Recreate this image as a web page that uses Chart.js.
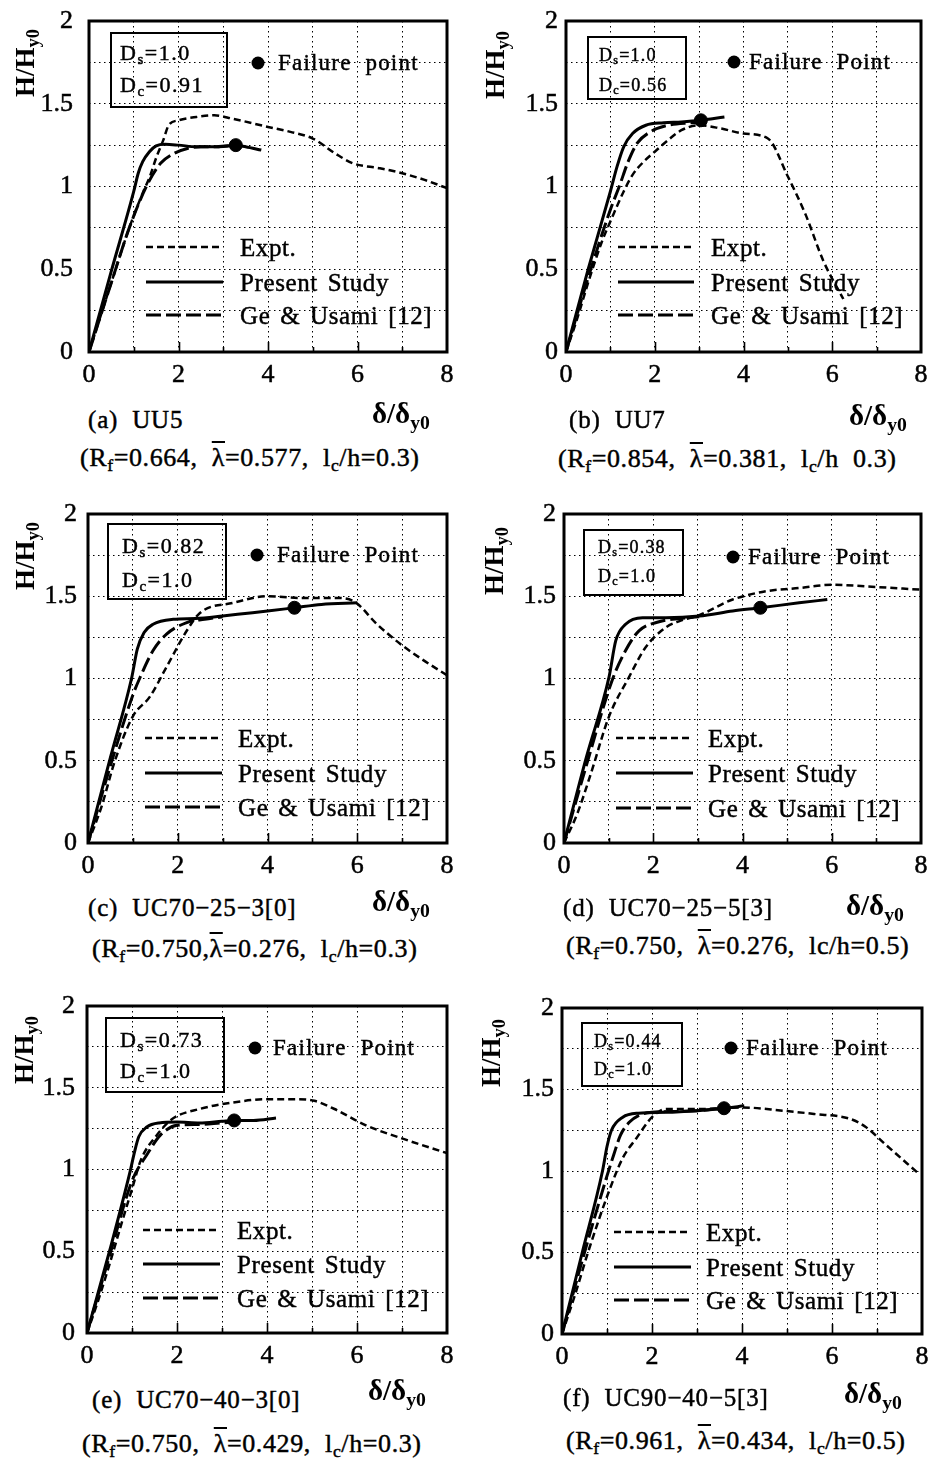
<!DOCTYPE html>
<html><head><meta charset="utf-8">
<script src="https://cdn.jsdelivr.net/npm/chart.js@4.4.0/dist/chart.umd.min.js"></script>
<style>
html,body{margin:0;padding:0;background:#fff;}
body{width:932px;height:1465px;position:relative;overflow:hidden;font-family:"Liberation Serif","Times New Roman",serif;color:#000;}
canvas{position:absolute;}
.t{position:absolute;white-space:pre;line-height:1;color:#000;-webkit-text-stroke:0.45px #000;}
.t sub{font-size:0.68em;vertical-align:-0.28em;line-height:0;}
.lb{text-decoration:overline;text-decoration-thickness:1.5px;}
.box{position:absolute;border:2.5px solid #000;box-sizing:border-box;}
</style></head><body>
<script>
// ---------- DATA ----------
// each pair: [δ/δy0, H/Hy0]
const expt_a = [[0,0],[0.5,0.42],[0.9,0.75],[1.2,0.96],[1.36,1.06],[1.51,1.18],[1.66,1.28],[1.78,1.37],[2.0,1.40],[2.4,1.42],[2.8,1.43],[3.2,1.41],[4.0,1.36],[4.5,1.33],[5.0,1.29],[5.5,1.20],[5.9,1.14],[6.5,1.11],[7.0,1.08],[7.5,1.04],[8.0,0.99]];
const present_a = [[0,0],[0.5,0.49],[1.0,0.97],[1.1,1.08],[1.2,1.15],[1.35,1.21],[1.5,1.245],[1.7,1.255],[2.0,1.25],[2.4,1.24],[2.8,1.24],[3.28,1.25],[3.5,1.24],[3.85,1.22]];
const ge_a = [[0,0],[0.5,0.42],[0.9,0.75],[1.3,1.01],[1.6,1.14],[1.9,1.2],[2.2,1.23],[2.5,1.24],[2.9,1.24],[3.3,1.25]];
const fail_a = [[3.28,1.25]];

const expt_b = [[0,0],[0.25,0.2],[0.5,0.42],[0.8,0.66],[1.05,0.82],[1.3,0.97],[1.5,1.07],[1.75,1.15],[2.0,1.21],[2.3,1.28],[2.6,1.34],[3.0,1.37],[3.5,1.35],[4.0,1.32],[4.55,1.29],[5.0,1.06],[5.4,0.83],[5.8,0.55],[6.25,0.32]];
const present_b = [[0,0],[0.5,0.5],[1.0,0.97],[1.15,1.12],[1.3,1.24],[1.5,1.32],[1.8,1.37],[2.2,1.385],[2.6,1.39],[3.04,1.40],[3.3,1.41],[3.57,1.42]];
const ge_b = [[0,0],[0.5,0.45],[1.0,0.86],[1.2,1.0],[1.4,1.15],[1.6,1.26],[1.9,1.33],[2.3,1.37],[2.8,1.385],[3.1,1.39]];
const fail_b = [[3.04,1.40]];

const expt_c = [[0,0],[0.3,0.22],[0.6,0.5],[1.0,0.77],[1.38,0.89],[1.75,1.07],[2.2,1.29],[2.5,1.4],[3.24,1.46],[4.0,1.5],[4.7,1.49],[5.5,1.49],[5.92,1.47],[6.44,1.33],[6.96,1.21],[7.48,1.11],[8.0,1.02]];
const present_c = [[0,0],[0.5,0.52],[0.97,1.0],[1.1,1.18],[1.25,1.28],[1.45,1.33],[1.9,1.36],[2.4,1.365],[3.0,1.38],[3.5,1.395],[4.0,1.41],[4.6,1.43],[5.2,1.45],[6.0,1.46]];
const ge_c = [[0,0],[0.5,0.47],[1.0,0.9],[1.15,1.0],[1.45,1.17],[1.75,1.27],[2.2,1.34],[2.6,1.36],[3.0,1.375]];
const fail_c = [[4.6,1.43]];

const expt_d = [[0,0],[0.3,0.18],[0.6,0.42],[1.01,0.77],[1.46,1.01],[1.83,1.19],[2.28,1.31],[2.6,1.35],[3.03,1.385],[3.78,1.48],[4.52,1.53],[5.27,1.55],[6.02,1.57],[6.77,1.56],[8.0,1.54]];
const present_d = [[0,0],[0.5,0.52],[1.01,1.01],[1.16,1.23],[1.38,1.33],[1.76,1.37],[2.28,1.37],[3.03,1.38],[3.78,1.41],[4.4,1.43],[5.27,1.46],[5.9,1.48]];
const ge_d = [[0,0],[0.5,0.47],[1.08,0.99],[1.38,1.17],[1.68,1.29],[2.13,1.345],[2.43,1.36],[3.03,1.375]];
const fail_d = [[4.4,1.43]];

const expt_e = [[0,0],[0.25,0.2],[0.5,0.42],[0.8,0.7],[1.0,0.88],[1.2,1.06],[1.55,1.21],[1.9,1.31],[2.5,1.37],[3.25,1.41],[4.0,1.43],[4.6,1.43],[5.05,1.42],[5.5,1.37],[6.2,1.27],[7.0,1.19],[8.0,1.10]];
const present_e = [[0,0],[0.5,0.5],[0.96,0.99],[1.05,1.1],[1.15,1.2],[1.33,1.26],[1.6,1.285],[2.0,1.29],[2.5,1.285],[3.0,1.295],[3.27,1.30],[3.7,1.30],[4.2,1.315]];
const ge_e = [[0,0],[0.5,0.47],[1.0,0.93],[1.33,1.09],[1.63,1.21],[2.0,1.27],[2.5,1.275],[3.0,1.285],[3.3,1.29]];
const fail_e = [[3.27,1.30]];

const expt_f = [[0,0],[0.3,0.25],[0.6,0.52],[1.05,0.88],[1.35,1.08],[1.65,1.2],[2.0,1.33],[2.3,1.38],[3.0,1.38],[4.0,1.39],[4.9,1.37],[5.6,1.35],[6.4,1.32],[6.75,1.27],[7.2,1.16],[7.9,0.99]];
const present_f = [[0,0],[0.45,0.5],[0.9,1.0],[1.0,1.15],[1.1,1.25],[1.35,1.33],[1.7,1.355],[2.3,1.36],[3.0,1.37],[3.6,1.385],[4.05,1.40]];
const ge_f = [[0,0],[0.5,0.5],[1.0,0.97],[1.15,1.1],[1.3,1.22],[1.5,1.3],[1.7,1.34],[2.0,1.36],[2.5,1.365],[3.0,1.37],[3.6,1.385]];
const fail_f = [[3.6,1.385]];

// tick values
const xTicks = [0,2,4,6,8];
const yTicks = [0,0.5,1,1.5,2];

// texts
const legendLabels = ['Expt.','Present Study','Ge & Usami [12]'];
const failLabels = ['Failure  point','Failure  Point','Failure  Point','Failure  Point','Failure  Point','Failure  Point'];
const panelLabels = ['(a)  UU5','(b)  UU7','(c)  UC70\u221225\u22123[0]','(d)  UC70\u221225\u22125[3]','(e)  UC70\u221240\u22123[0]','(f)  UC90\u221240\u22125[3]'];
const LAM = '<span class="lb">\u03bb</span>';
const paramLines = [
  '(R<sub>f</sub>=0.664,  ' + LAM + '=0.577,  l<sub>c</sub>/h=0.3)',
  '(R<sub>f</sub>=0.854,  ' + LAM + '=0.381,  l<sub>c</sub>/h  0.3)',
  '(R<sub>f</sub>=0.750,' + LAM + '=0.276,  l<sub>c</sub>/h=0.3)',
  '(R<sub>f</sub>=0.750,  ' + LAM + '=0.276,  lc/h=0.5)',
  '(R<sub>f</sub>=0.750,  ' + LAM + '=0.429,  l<sub>c</sub>/h=0.3)',
  '(R<sub>f</sub>=0.961,  ' + LAM + '=0.434,  l<sub>c</sub>/h=0.5)'
];
const dsValues = ['1.0','1.0','0.82','0.38','0.73','0.44'];
const dcValues = ['0.91','0.56','1.0','1.0','1.0','1.0'];
const yTitle = 'H/H<sub>y0</sub>';
const xTitle = '\u03b4/\u03b4<sub>y0</sub>';

const EXPT = [expt_a,expt_b,expt_c,expt_d,expt_e,expt_f];
const PRESENT = [present_a,present_b,present_c,present_d,present_e,present_f];
const GE = [ge_a,ge_b,ge_c,ge_d,ge_e,ge_f];
const FAIL = [fail_a,fail_b,fail_c,fail_d,fail_e,fail_f];

// ---------- LAYOUT (page pixels) ----------
const LAYOUT = [
 {box:[89,21,447,352], yPad:16, cap:[88,428], xt:[372,423], par:[80,467], yt:[25,63], dbox:[21,11,118,76], dfs:22, ds:[31,39], dc:[31,71], leg:{x0:57,x1:134,tx:151,rows:[226,261,294]}, fail:{x:169,y:42,tx:189}},
 {box:[566,21,921,352], yPad:8, cap:[569,428], xt:[849,425], par:[558,468], yt:[495,65], dbox:[21,15,100,64], dfs:18, ds:[33,40], dc:[33,70], leg:{x0:52,x1:128,tx:145,rows:[226,261,294]}, fail:{x:168,y:41,tx:183}},
 {box:[88,514,447,843], yPad:11, cap:[88,916], xt:[372,911], par:[92,958], yt:[25,556], dbox:[19,9,120,77], dfs:22, ds:[34,39], dc:[34,73], leg:{x0:57,x1:134,tx:150,rows:[224,259,293]}, fail:{x:169,y:41,tx:189}},
 {box:[564,514,921,843], yPad:8, cap:[563,916], xt:[846,915], par:[566,955], yt:[494,561], dbox:[19,15,101,67], dfs:18, ds:[34,39], dc:[34,68], leg:{x0:52,x1:129,tx:144,rows:[224,259,294]}, fail:{x:169,y:43,tx:184}},
 {box:[87,1006,447,1333], yPad:12, cap:[92,1408], xt:[368,1400], par:[82,1453], yt:[24,1050], dbox:[18,11,120,76], dfs:22, ds:[33,41], dc:[33,72], leg:{x0:56,x1:133,tx:150,rows:[224,258,292]}, fail:{x:168,y:42,tx:186}},
 {box:[562,1008,922,1334], yPad:8, cap:[563,1406], xt:[844,1403], par:[566,1450], yt:[491,1053], dbox:[19,14,102,65], dfs:18, ds:[32,39], dc:[32,67], leg:{x0:52,x1:129,tx:144,rows:[224,259,292]}, fail:{x:169,y:40,tx:184}}
];

const SERIF = '"Liberation Serif","Times New Roman",serif';
Chart.defaults.font.family = SERIF;
Chart.defaults.color = '#000';

function addText(html, x, baseline, size, extra){
  const d = document.createElement('div');
  d.className = 't';
  d.innerHTML = html;
  d.style.left = x + 'px';
  d.style.top = (baseline - 0.8375*size) + 'px';
  d.style.fontSize = size + 'px';
  if (extra) d.style.cssText += extra;
  document.body.appendChild(d);
  return d;
}

function strokeFill(ctx, txt, x, y){
  ctx.fillText(txt, x, y);
  ctx.lineWidth = 0.45;
  ctx.strokeText(txt, x, y);
}

const decorPlugin = {
  id: 'decor',
  afterDraw(chart, args, o) {
    const {ctx, chartArea: a} = chart;
    const xs = chart.scales.x;
    ctx.save();
    ctx.strokeStyle = '#000';
    ctx.fillStyle = '#000';
    // inward ticks on the bottom axis
    ctx.lineWidth = 1.6;
    for (let v = 1; v < 8; v++) {
      const px = Math.round(xs.getPixelForValue(v)) + 0.5;
      const len = v % 2 === 0 ? 10 : 5;
      ctx.beginPath(); ctx.moveTo(px, a.bottom); ctx.lineTo(px, a.bottom - len); ctx.stroke();
    }
    // frame
    ctx.lineWidth = 3;
    ctx.strokeRect(a.left, a.top, a.right - a.left, a.bottom - a.top);
    // legend of lines
    const L = o.leg;
    legendLabels.forEach((lab, k) => {
      const ds = chart.data.datasets.find(d => d.label === lab);
      const y = a.top + L.rows[k];
      ctx.beginPath();
      ctx.setLineDash(ds.borderDash || []);
      ctx.lineWidth = ds.borderWidth;
      ctx.moveTo(a.left + L.x0, y); ctx.lineTo(a.left + L.x1, y);
      ctx.stroke();
      ctx.setLineDash([]);
      ctx.font = '25px ' + SERIF;
      ctx.letterSpacing = '0.6px';
      ctx.wordSpacing = '3px';
      ctx.textBaseline = 'alphabetic';
      ctx.textAlign = 'left';
      strokeFill(ctx, lab, a.left + L.tx, y + 8.5);
    });
    // failure point legend
    const F = o.fail;
    ctx.beginPath();
    ctx.arc(a.left + F.x, a.top + F.y, 6.5, 0, Math.PI*2);
    ctx.fill();
    ctx.font = '23px ' + SERIF;
    ctx.letterSpacing = '1.2px';
    ctx.wordSpacing = '0px';
    strokeFill(ctx, o.failLabel, a.left + F.tx, a.top + F.y + 7);
    ctx.restore();
  }
};

const toXY = arr => arr.map(p => ({x: p[0], y: p[1]}));
const near = (v, list) => list.some(t => Math.abs(t - v) < 1e-9);

function makePanel(i){
  const lay = LAYOUT[i];
  const [L,T,R,B] = lay.box;
  const PADT = 16, PADR = 12, YW = 70, XH = 50;
  const cv = document.createElement('canvas');
  cv.width = (R - L) + YW + PADR;
  cv.height = (B - T) + PADT + XH;
  cv.style.left = (L - YW) + 'px';
  cv.style.top = (T - PADT) + 'px';
  document.body.appendChild(cv);
  const tickFont = {size:26, family:SERIF};
  new Chart(cv, {
    type: 'scatter',
    data: { datasets: [
      {label:'Failure', data: toXY(FAIL[i]), showLine:false, pointRadius:6.5, pointHoverRadius:6.5, backgroundColor:'#000', borderColor:'#000'},
      {label:legendLabels[1], data: toXY(PRESENT[i]), showLine:true, borderColor:'#000', borderWidth:3, pointRadius:0, cubicInterpolationMode:'monotone'},
      {label:legendLabels[2], data: toXY(GE[i]), showLine:true, borderColor:'#000', borderWidth:3, borderDash:[15,5], pointRadius:0, cubicInterpolationMode:'monotone'},
      {label:legendLabels[0], data: toXY(EXPT[i]), showLine:true, borderColor:'#000', borderWidth:2.5, borderDash:[7,4], pointRadius:0, cubicInterpolationMode:'monotone'}
    ]},
    options: {
      responsive:false, animation:false, events:[],
      layout:{padding:{top:PADT, right:PADR, left:0, bottom:0}},
      plugins:{legend:{display:false}, tooltip:{enabled:false},
        decor:{leg:lay.leg, fail:lay.fail, failLabel:failLabels[i]}},
      scales:{
        x:{type:'linear', min:0, max:8,
           afterFit: s => { s.height = XH; s.paddingLeft = 0; s.paddingRight = 0; },
           grid:{color:'#000', lineWidth:1, drawTicks:false},
           border:{display:false, dash:[1.5,3.5]},
           ticks:{stepSize:1, autoSkip:false, maxRotation:0, padding:8, color:'#000', font:tickFont,
                  textStrokeColor:'#000', textStrokeWidth:0.5,
                  callback: v => near(v, xTicks) ? String(v) : ''}},
        y:{type:'linear', min:0, max:2,
           afterFit: s => { s.width = YW; s.paddingTop = 0; s.paddingBottom = 0; },
           grid:{color:'#000', lineWidth:1, drawTicks:false},
           border:{display:false, dash:[1.5,3.5]},
           ticks:{stepSize:0.25, autoSkip:false, padding:lay.yPad, color:'#000', font:tickFont,
                  textStrokeColor:'#000', textStrokeWidth:0.5,
                  callback: v => near(v, yTicks) ? String(v) : ''}}
      }
    },
    plugins:[decorPlugin]
  });

  // D box
  const bx = document.createElement('div');
  bx.className = 'box';
  bx.style.left = (L + lay.dbox[0]) + 'px';
  bx.style.top = (T + lay.dbox[1]) + 'px';
  bx.style.width = lay.dbox[2] + 'px';
  bx.style.height = lay.dbox[3] + 'px';
  document.body.appendChild(bx);
  const dls = lay.dfs > 20 ? 'letter-spacing:1.5px;' : 'letter-spacing:1.2px;';
  addText('D<sub>s</sub>=' + dsValues[i], L + lay.ds[0], T + lay.ds[1], lay.dfs, dls);
  addText('D<sub>c</sub>=' + dcValues[i], L + lay.dc[0], T + lay.dc[1], lay.dfs, dls);

  // captions
  addText(panelLabels[i], lay.cap[0], lay.cap[1], 25, 'letter-spacing:0.8px;');
  addText(xTitle, lay.xt[0], lay.xt[1], 29, 'font-weight:bold;-webkit-text-stroke:0;');
  addText(paramLines[i], lay.par[0], lay.par[1], 26, 'letter-spacing:0.6px;');

  // y title (rotated)
  const yt = document.createElement('div');
  yt.className = 't';
  yt.innerHTML = yTitle;
  yt.style.fontSize = '27px';
  yt.style.fontWeight = 'bold';
  yt.style.webkitTextStroke = '0';
  yt.style.left = lay.yt[0] + 'px';
  yt.style.top = lay.yt[1] + 'px';
  yt.style.transform = 'translate(-50%,-50%) rotate(-90deg)';
  document.body.appendChild(yt);
}

for (let i = 0; i < 6; i++) makePanel(i);
</script>
</body></html>
